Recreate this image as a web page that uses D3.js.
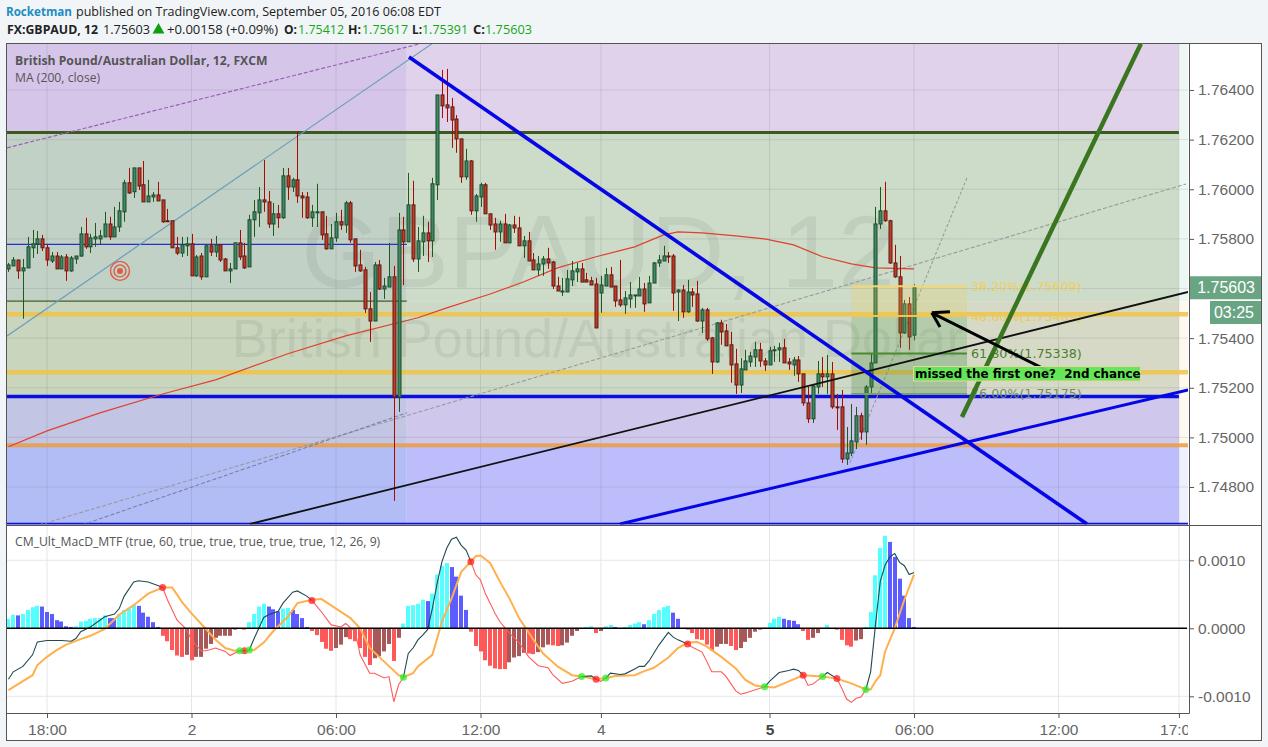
<!DOCTYPE html>
<html><head><meta charset="utf-8">
<script src="https://cdn.jsdelivr.net/npm/d3@7/dist/d3.min.js"></script>
<style>html,body{margin:0;padding:0;background:#f1f5f8;overflow:hidden}svg{display:block}</style>
</head><body><svg id="c" width="1268" height="747"></svg>
<script>
const opens=[1.75679,1.75691,1.75715,1.75671,1.75683,1.75764,1.75780,1.75800,1.75764,1.75711,1.75731,1.75679,1.75727,1.75671,1.75719,1.75731,1.75820,1.75768,1.75800,1.75800,1.75808,1.75860,1.75808,1.75848,1.75909,1.76026,1.75990,1.76086,1.76018,1.75949,1.75969,1.75977,1.75957,1.75873,1.75873,1.75764,1.75743,1.75772,1.75780,1.75651,1.75731,1.75647,1.75772,1.75747,1.75776,1.75719,1.75671,1.75679,1.75784,1.75731,1.75687,1.75877,1.75905,1.75957,1.75949,1.75860,1.75901,1.75885,1.76054,1.76009,1.76038,1.75973,1.75969,1.75885,1.75905,1.75909,1.75820,1.75760,1.75804,1.75869,1.75856,1.75945,1.75800,1.75695,1.75675,1.75518,1.75469,1.75695,1.75598,1.75606,1.75647,1.75163,1.75836,1.75788,1.75937,1.75719,1.75788,1.75824,1.75792,1.76018,1.76380,1.76340,1.76332,1.76283,1.76203,1.76050,1.76114,1.75913,1.75969,1.76018,1.75901,1.75860,1.75828,1.75860,1.75784,1.75856,1.75844,1.75772,1.75792,1.75715,1.75675,1.75699,1.75719,1.75707,1.75610,1.75586,1.75586,1.75635,1.75667,1.75679,1.75635,1.75631,1.75618,1.75582,1.75610,1.75655,1.75610,1.75554,1.75534,1.75558,1.75570,1.75570,1.75598,1.75542,1.75622,1.75703,1.75711,1.75731,1.75731,1.75586,1.75594,1.75506,1.75586,1.75578,1.75469,1.75514,1.75401,1.75304,1.75461,1.75429,1.75373,1.75296,1.75211,1.75272,1.75304,1.75324,1.75353,1.75308,1.75292,1.75349,1.75353,1.75361,1.75304,1.75292,1.75312,1.75256,1.75139,1.75075,1.75203,1.75256,1.75244,1.75256,1.75123,1.75123,1.74913,1.74937,1.74982,1.75087,1.75022,1.75203,1.75300,1.75860,1.75913,1.75873,1.75703,1.75647,1.75421,1.75538,1.75412];
const highs=[1.75703,1.75727,1.75715,1.75719,1.75808,1.75836,1.75832,1.75816,1.75780,1.75747,1.75747,1.75735,1.75739,1.75731,1.75731,1.75848,1.75885,1.75820,1.75864,1.75836,1.75909,1.75889,1.75929,1.75949,1.76038,1.76086,1.76086,1.76086,1.76114,1.76038,1.75989,1.76030,1.75957,1.75921,1.75873,1.75808,1.75808,1.75808,1.75820,1.75735,1.75743,1.75776,1.75800,1.75812,1.75776,1.75723,1.75703,1.75784,1.75836,1.75784,1.75897,1.75957,1.76009,1.76118,1.75993,1.75945,1.75937,1.76086,1.76086,1.76046,1.76231,1.75989,1.75989,1.75937,1.76022,1.75909,1.75893,1.75860,1.75905,1.75917,1.75953,1.75953,1.75800,1.75756,1.75687,1.75586,1.75707,1.75715,1.75643,1.75784,1.75691,1.75905,1.75889,1.76066,1.76034,1.75848,1.75893,1.75869,1.76046,1.76380,1.76481,1.76485,1.76368,1.76299,1.76203,1.76163,1.76118,1.75981,1.76026,1.76026,1.75901,1.75885,1.75873,1.75901,1.75860,1.75893,1.75889,1.75812,1.75828,1.75743,1.75731,1.75731,1.75764,1.75711,1.75647,1.75643,1.75675,1.75711,1.75703,1.75703,1.75663,1.75647,1.75643,1.75651,1.75683,1.75687,1.75610,1.75715,1.75590,1.75626,1.75574,1.75647,1.75622,1.75651,1.75707,1.75735,1.75772,1.75747,1.75739,1.75598,1.75614,1.75635,1.75602,1.75631,1.75522,1.75522,1.75405,1.75465,1.75474,1.75457,1.75425,1.75357,1.75320,1.75353,1.75345,1.75385,1.75381,1.75320,1.75365,1.75369,1.75381,1.75397,1.75320,1.75324,1.75328,1.75256,1.75203,1.75211,1.75308,1.75324,1.75332,1.75304,1.75175,1.75191,1.75042,1.75135,1.75123,1.75099,1.75211,1.75337,1.75929,1.76009,1.76030,1.75877,1.75776,1.75731,1.75554,1.75566,1.75617];
const lows=[1.75667,1.75691,1.75639,1.75478,1.75683,1.75723,1.75739,1.75751,1.75691,1.75703,1.75679,1.75679,1.75631,1.75667,1.75699,1.75727,1.75760,1.75743,1.75768,1.75776,1.75808,1.75796,1.75808,1.75828,1.75869,1.75981,1.75965,1.75997,1.75949,1.75949,1.75949,1.75953,1.75864,1.75869,1.75764,1.75735,1.75727,1.75731,1.75651,1.75647,1.75635,1.75647,1.75731,1.75727,1.75707,1.75671,1.75622,1.75679,1.75715,1.75679,1.75687,1.75808,1.75848,1.75909,1.75844,1.75812,1.75844,1.75881,1.75957,1.75989,1.75945,1.75885,1.75881,1.75848,1.75848,1.75796,1.75756,1.75760,1.75788,1.75836,1.75824,1.75784,1.75667,1.75667,1.75502,1.75385,1.75469,1.75594,1.75558,1.75606,1.74744,1.75103,1.75614,1.75788,1.75707,1.75667,1.75731,1.75707,1.75727,1.75957,1.76287,1.76271,1.76167,1.76147,1.76026,1.76038,1.75897,1.75869,1.75929,1.75901,1.75836,1.75756,1.75788,1.75784,1.75784,1.75824,1.75772,1.75723,1.75711,1.75675,1.75651,1.75651,1.75679,1.75598,1.75590,1.75570,1.75586,1.75610,1.75626,1.75626,1.75626,1.75614,1.75441,1.75502,1.75610,1.75606,1.75526,1.75526,1.75498,1.75522,1.75522,1.75570,1.75506,1.75542,1.75622,1.75687,1.75711,1.75703,1.75510,1.75469,1.75482,1.75502,1.75526,1.75465,1.75421,1.75389,1.75256,1.75300,1.75373,1.75369,1.75220,1.75175,1.75179,1.75272,1.75284,1.75284,1.75284,1.75268,1.75292,1.75304,1.75304,1.75300,1.75272,1.75248,1.75224,1.75127,1.75058,1.75058,1.75175,1.75203,1.75175,1.75115,1.75030,1.74897,1.74889,1.74925,1.74953,1.74990,1.74970,1.75179,1.75300,1.75840,1.75869,1.75699,1.75643,1.75361,1.75417,1.75353,1.75391];
const closes=[1.75695,1.75715,1.75671,1.75683,1.75768,1.75780,1.75800,1.75764,1.75715,1.75731,1.75679,1.75727,1.75671,1.75723,1.75731,1.75820,1.75768,1.75804,1.75808,1.75812,1.75860,1.75808,1.75848,1.75913,1.76026,1.75985,1.76086,1.76013,1.75949,1.75973,1.75977,1.75953,1.75869,1.75869,1.75764,1.75743,1.75776,1.75780,1.75651,1.75727,1.75647,1.75772,1.75747,1.75776,1.75715,1.75671,1.75679,1.75784,1.75727,1.75683,1.75877,1.75909,1.75957,1.75949,1.75860,1.75901,1.75885,1.76054,1.76009,1.76038,1.75973,1.75965,1.75885,1.75909,1.75909,1.75816,1.75760,1.75804,1.75869,1.75856,1.75945,1.75796,1.75691,1.75671,1.75518,1.75469,1.75695,1.75598,1.75610,1.75647,1.75163,1.75836,1.75788,1.75937,1.75719,1.75792,1.75824,1.75792,1.76022,1.76380,1.76336,1.76328,1.76279,1.76203,1.76050,1.76114,1.75913,1.75973,1.76018,1.75901,1.75856,1.75828,1.75860,1.75784,1.75856,1.75844,1.75772,1.75792,1.75711,1.75675,1.75699,1.75719,1.75703,1.75610,1.75590,1.75590,1.75639,1.75671,1.75679,1.75626,1.75626,1.75614,1.75441,1.75614,1.75655,1.75606,1.75550,1.75534,1.75562,1.75574,1.75574,1.75598,1.75538,1.75622,1.75703,1.75715,1.75731,1.75727,1.75582,1.75594,1.75506,1.75586,1.75574,1.75469,1.75514,1.75397,1.75304,1.75461,1.75425,1.75369,1.75292,1.75211,1.75276,1.75308,1.75328,1.75353,1.75308,1.75292,1.75349,1.75353,1.75361,1.75300,1.75296,1.75312,1.75256,1.75139,1.75075,1.75207,1.75256,1.75244,1.75256,1.75123,1.75119,1.74913,1.74937,1.74986,1.75087,1.75022,1.75203,1.75300,1.75860,1.75913,1.75873,1.75703,1.75647,1.75421,1.75538,1.75405,1.75603];
const maIndex=[0,8,19,32,43,58,70,85,91,100,107,114,122,130,136,139,144,151,157,163,169,175,180,188];
const maValues=[1.74962,1.75026,1.75099,1.75175,1.75232,1.75337,1.75409,1.75482,1.75522,1.75578,1.75627,1.75683,1.75728,1.75768,1.75816,1.75828,1.75824,1.75812,1.75800,1.75776,1.75728,1.75699,1.75683,1.75679];
const histogram=[.00014,.0002,.00019,.00021,.00027,.00031,.00033,.00032,.00024,.00021,.00012,.0001,.00003,.00002,.00003,.0001,.00011,.00014,.00015,.00015,.00019,.00015,.00015,.00021,.00027,.00029,.00034,.00033,.00023,.00017,.00009,.00002,-.00011,-.00019,-.00032,-.0004,-.00042,-.00039,-.00047,-.00042,-.00042,-.0003,-.00023,-.00014,-.00011,-.00011,-.00011,-.00002,0,-.00002,.00009,.00021,.00032,.00036,.00032,.00028,.00025,.00029,.0003,.00027,.00021,.00015,.00002,-.00004,-.0001,-.0002,-.0003,-.00033,-.00029,-.00024,-.00013,-.00016,-.00019,-.00029,-.00042,-.00054,-.00044,-.00041,-.00034,-.00023,-.00048,-.00014,.00007,.00033,.00034,.00036,.00042,.0004,.00051,.00079,.00092,.00096,.0009,.00076,.00048,.00027,-.00005,-.00026,-.00034,-.00047,-.00055,-.00059,-.0006,-.0006,-.0005,-.00043,-.00041,-.00036,-.00037,-.00038,-.00035,-.00028,-.00024,-.00025,-.00026,-.00025,-.00021,-.00011,-.00004,0,.00002,.00003,-.00007,-.00004,.00003,.00005,.00002,0,.00002,.00005,.00007,.00009,.00006,.00012,.00021,.00027,.00031,.00033,.00023,.00014,0,-.00002,-.00007,-.00016,-.00017,-.00024,-.00033,-.00027,-.00023,-.00023,-.00026,-.00032,-.00029,-.0002,-.00014,-.00005,-.00002,.00001,.00008,.00014,.00017,.00014,.00012,.00011,.00006,-.00004,-.00017,-.00014,-.00007,0,.00005,0,-.00002,-.00017,-.00025,-.00027,-.00018,-.00016,.00002,.00024,.00078,.00118,.00136,.00127,.00105,.00073,.00048,.00015,.00002];
const macdIndex=[0,1,3,5,6,8,11,13,14,15,17,20,22,23,24,26,27,29,31,32,33,35,37,38,40,41,43,45,46,48,49,50,51,53,54,56,57,59,60,62,63,65,67,69,70,72,73,75,76,78,79,80,81,82,83,84,85,86,87,88,89,90,91,92,93,94,95,96,97,98,99,100,101,102,104,106,108,110,112,113,115,117,119,121,122,123,124,125,127,128,130,131,132,133,135,137,138,139,141,142,144,145,146,148,149,151,152,153,157,158,160,162,163,164,165,166,167,169,170,172,173,174,175,176,177,178,179,180,181,182,183,184,185,186,187,188];
const macdValues=[-.00075,-.00064,-.00056,-.00039,-.0002,-.00018,-.00018,-.00019,-.00015,-.00005,.00002,.00017,.00021,.00029,.00047,.00068,.0007,.00068,.00063,.0006,.00042,.00012,-.00002,-.00017,-.00033,-.00033,-.00029,-.00034,-.0004,-.00033,-.00033,-.00032,-.00015,.00016,.0002,.00025,.00037,.00053,.00055,.00047,.00041,.00024,.00005,.00002,.00007,-.00005,-.00039,-.00066,-.00066,-.00073,-.00071,-.00108,-.00083,-.00072,-.00037,-.00029,-.00017,-.0001,-.00002,.00029,.00066,.00098,.00118,.00131,.00134,.00122,.00115,.00098,.00079,.00071,.00051,.00037,.00022,.0001,-.00007,-.00021,-.00042,-.00055,-.00058,-.00068,-.00081,-.00078,-.00071,-.0007,-.00075,-.00078,-.00073,-.00066,-.00068,-.00067,-.0006,-.00056,-.00056,-.00048,-.00025,-.00006,-.00013,-.00017,-.00023,-.00028,-.00035,-.00049,-.00064,-.00064,-.00071,-.00092,-.00097,-.00095,-.00086,-.00078,-.00065,-.00062,-.0006,-.00062,-.00069,-.00084,-.00082,-.00071,-.00065,-.00074,-.00088,-.00104,-.00109,-.00103,-.00101,-.0009,-.00064,.00005,.00069,.00093,.00105,.0011,.00097,.00092,.00079,.00082];
const signalIndex=[0,2,5,6,8,10,12,15,17,20,23,26,29,32,34,36,38,41,43,45,47,49,51,53,55,58,60,63,65,68,71,73,75,78,81,82,84,85,88,89,90,92,94,96,97,98,100,102,104,106,109,111,114,117,119,122,124,126,130,132,134,137,139,141,143,145,148,151,153,155,157,159,162,165,169,172,175,178,179,180,181,182,184,186,188];
const signalValues=[-.00091,-.00082,-.00069,-.00054,-.00042,-.00032,-.00024,-.00016,-.00011,-.00001,.0002,.00034,.00051,.0006,.0006,.00039,.00022,-.00001,-.00017,-.00029,-.00033,-.00033,-.00032,-.00021,-.00004,.00017,.00037,.00042,.00043,.00029,.00015,0,-.00029,-.00049,-.00069,-.00072,-.00066,-.00056,-.00039,-.00015,.0001,.00044,.00083,.00098,.00106,.00107,.00096,.00069,.00044,.00015,-.00017,-.00037,-.00056,-.00069,-.00071,-.00075,-.00073,-.0007,-.00069,-.00063,-.00058,-.00043,-.00029,-.00021,-.0002,-.00027,-.00042,-.00059,-.00076,-.00084,-.00086,-.00087,-.00078,-.00069,-.00071,-.00074,-.00081,-.0009,-.0009,-.00078,-.00069,-.00034,0,.00042,.00079];
const redCrosses=[32,49,63,96,122,141,165,172];
const greenCrosses=[48,50,82,119,124,157,169,178];
const priceTicks=[1.764,1.762,1.76,1.758,1.756,1.754,1.752,1.75,1.748];
const macdTicks=[.001,0,-.001];
const timeTickIndex=[8,38,68,98,123,158,188,218,243];
const timeTickLabels=["18:00","2","06:00","12:00","4","5","06:00","12:00","17:00"];
const fibLevels=[1.75609,1.75489,1.75338,1.75175];
const fibNames=["38.20%","48.60%","61.80%","76.00%"];

const svg=d3.select("#c");
const x=d3.scaleLinear().domain([8,188]).range([47,914]);
const y=d3.scaleLinear().domain([1.748,1.764]).range([487,90]);
const m=d3.scaleLinear().domain([-.001,.001]).range([696.3,560.3]);
const L=7,R=1189,TOP=44,BOT=524.5,MID=82.7,FIB=199,END=243;
const defs=svg.append("defs");
defs.append("clipPath").attr("id","cp").append("rect").attr("x",L).attr("y",TOP).attr("width",R-L-1).attr("height",BOT-TOP);
defs.append("clipPath").attr("id","ct2").append("rect").attr("x",0).attr("y",0).attr("width",R-1).attr("height",26);

svg.append("rect").attr("x",L).attr("y",TOP).attr("width",1254).attr("height",696).attr("fill","#fff");
const g=svg.append("g").attr("clip-path","url(#cp)");

// background zones
const zoneTop=[1.7660,1.76229,1.75549,1.75165,1.74968];
const zoneBot=[1.76229,1.75549,1.75165,1.74968,1.7465];
const zoneLeft=["#d5c6e9","#c2d1c6","#c9d5bd","#c2c5e4","#b2bdf5"];
const zoneMid=["#e0d2ea","#cddbc9","#cdd9c6","#cfc8ec","#bdbdfc"];
const zoneRight=["#e0d2ea","#cddbc9","#d6d9c6","#cfc8ec","#bdbdfc"];
const zoneStrip=["#eef8f2","#eef8f2","#fdf9f0","#fdf9f0","#eef0fd"];
zoneTop.forEach((t,i)=>{
  const add=(a,b,c)=>g.append("rect").attr("x",x(a)).attr("width",x(b)-x(a)).attr("y",y(t)).attr("height",y(zoneBot[i])-y(t)).attr("fill",c);
  add(-1,MID,zoneLeft[i]);add(MID,FIB,zoneMid[i]);add(FIB,END,zoneRight[i]);add(END,246,zoneStrip[i]);
});
// grid
const gridC="rgba(70,70,90,.13)";
priceTicks.forEach(p=>g.append("line").attr("x1",L).attr("x2",R).attr("y1",y(p)).attr("y2",y(p)).attr("stroke",gridC));
timeTickIndex.forEach(k=>g.append("line").attr("x1",x(k)).attr("x2",x(k)).attr("y1",TOP).attr("y2",BOT).attr("stroke",gridC));
// watermark
const wm=g.append("g").attr("font-family","Liberation Sans").attr("fill","rgba(90,100,95,.11)").attr("text-anchor","middle");
wm.append("text").attr("x",598).attr("y",287).attr("font-size",102).text("GBPAUD, 12");
wm.append("text").attr("x",598).attr("y",357).attr("font-size",54).text("British Pound/Australian Dollar");

// horizontal levels
const hl=(p,c,w,a=-1,b=246)=>g.append("line").attr("x1",x(a)).attr("x2",x(b)).attr("y1",y(p)).attr("y2",y(p)).attr("stroke",c).attr("stroke-width",w);
hl(1.75778,"#2530cc",1.2,-1,MID);
hl(1.75549,"#3f5f2a",1.2,-1,MID);
hl(1.76229,"#3c5a1e",3,-1,END);
hl(1.75496,"rgba(240,195,70,.85)",4.5);
hl(1.75262,"rgba(240,195,70,.85)",4.5);
hl(1.75165,"#0a0fe0",3.5,-1,END);
hl(1.74968,"rgba(236,155,60,.85)",4);
hl(1.74651,"#0a0fe0",2.5);

// thin slanted lines under the candles
const seg=(a,p,b,q,c,w,dash)=>{const l=g.append("line").attr("x1",x(a)).attr("y1",y(p)).attr("x2",x(b)).attr("y2",y(q)).attr("stroke",c).attr("stroke-width",w);if(dash)l.attr("stroke-dasharray",dash);return l;};
seg(-0.3,1.75409,87.9,1.76586,"#6b9dbb",1.2);
seg(-0.3,1.76167,85.4,1.76586,"#9b5fb5",1.2,"4 2");
seg(6.34,1.74647,244.45,1.76021,"#9a9a9a",1.1,"4 2");
seg(15.27,1.74647,82.7,1.75099,"#7a80aa",1.1,"4 2");
seg(174.7,1.74897,199,1.76046,"#9a9a9a",1.1,"3 2");

// moving average
const lineMA=d3.line().x((d,i)=>x(maIndex[i])).y(d=>y(d));
g.append("path").attr("d",lineMA(maValues)).attr("fill","none").attr("stroke","#e0412f").attr("stroke-width",1.2);

// candles
const bars=d3.range(opens.length);
const cg=g.append("g");
cg.selectAll("line").data(bars).join("line").attr("x1",i=>Math.round(x(i))+.5).attr("x2",i=>Math.round(x(i))+.5)
 .attr("y1",i=>y(highs[i])).attr("y2",i=>y(lows[i])).attr("stroke-width",1).attr("stroke",i=>closes[i]>=opens[i]?"#1f5a18":"#a80a00");
cg.selectAll("rect").data(bars).join("rect").attr("x",i=>Math.round(x(i))-1).attr("width",3)
 .attr("y",i=>y(Math.max(opens[i],closes[i]))).attr("height",i=>Math.max(1,Math.abs(y(opens[i])-y(closes[i]))))
 .attr("fill",i=>closes[i]>=opens[i]?"#3f8a66":"#c23a2a").attr("stroke",i=>closes[i]>=opens[i]?"#1c4a2c":"#5a1c10").attr("stroke-width",1);

// fib tool
const fibFill=["rgba(240,205,70,.22)","rgba(90,160,70,.22)","rgba(70,130,50,.27)"];
fibFill.forEach((c,i)=>g.append("rect").attr("x",x(175)).attr("width",x(199)-x(175)).attr("y",y(fibLevels[i])).attr("height",y(fibLevels[i+1])-y(fibLevels[i])).attr("fill",c));
const fibLine=["#f3d676","#eec655","#4a8a30","#7d9c70"];
const fibText=["#f0d060","#ecc95a","#4a7f30","#6f8f68"];
fibLevels.forEach((p,i)=>{
  g.append("line").attr("x1",x(175)).attr("x2",x(199)).attr("y1",y(p)).attr("y2",y(p)).attr("stroke",fibLine[i]).attr("stroke-width",2);
  g.append("text").attr("x",971).attr("y",y(p)+4.5).attr("font-family","DejaVu Sans").attr("font-size",12.7).attr("fill",fibText[i]).text(fibNames[i]+"("+p.toFixed(5)+")");
});

// heavy trend lines
seg(50.14,1.74651,244.9,1.75586,"#111",1.8);
seg(83.15,1.76533,223.9,1.74651,"#0505e6",3.6);
seg(126.95,1.74651,244.9,1.75191,"#0505e6",3);
seg(197.95,1.75082,235.1,1.76586,"#39761f",4.5);
// arrow
seg(191.7,1.75502,216.2,1.75264,"#000",3);
seg(191.7,1.75502,195.46,1.75506,"#000",3);
seg(191.7,1.75502,193.4,1.75445,"#000",3);

// target icon
const tg=g.append("g").attr("transform",`translate(${x(23.15)},${y(1.75671)})`).attr("fill","none").attr("stroke","#e05a44");
tg.append("circle").attr("r",9.5).attr("stroke-width",1.4);
tg.append("circle").attr("r",6).attr("stroke-width",1.4);
tg.append("circle").attr("r",3).attr("fill","#e05a44").attr("stroke","none");

// callout
g.append("rect").attr("x",913.5).attr("y",366.5).attr("width",227).attr("height",14.5).attr("fill","#5ee855").attr("stroke","#f0d0a0").attr("fill-opacity",.94);
g.append("text").attr("x",915).attr("y",378).attr("font-family","DejaVu Sans").attr("font-weight","bold").attr("font-size",11.9).style("white-space","pre").attr("fill","#000").text("missed the first one?  2nd chance");

// chart titles
const ttl=svg.append("g").attr("font-family","Open Sans").attr("fill","#555");
ttl.append("text").attr("x",15).attr("y",65).attr("font-weight",700).attr("font-size",12.2).text("British Pound/Australian Dollar, 12, FXCM");
ttl.append("text").attr("x",15).attr("y",82).attr("font-size",12.2).text("MA (200, close)");

// MACD pane
const h=svg.append("g");
macdTicks.forEach(v=>h.append("line").attr("x1",L).attr("x2",R).attr("y1",m(v)).attr("y2",m(v)).attr("stroke","#e6e6e6"));
timeTickIndex.forEach(k=>h.append("line").attr("x1",x(k)).attr("x2",x(k)).attr("y1",526).attr("y2",713).attr("stroke","#e6e6e6"));
let prevC="#55ffff";
const histC=histogram.map((v,i)=>{
  const p=i?histogram[i-1]:0;
  let c=prevC;
  if(v>0) c=(v>p)?"#55ffff":(v<p?"#5c5cff":(prevC==="#55ffff"||prevC==="#5c5cff"?prevC:"#55ffff"));
  else if(v<0) c=(v<p)?"#ff5858":(v>p?"#a85858":(prevC==="#ff5858"||prevC==="#a85858"?prevC:"#ff5858"));
  prevC=c;return c;
});
h.selectAll("rect.h").data(histogram).join("rect").attr("class","h")
 .attr("x",(d,i)=>Math.round(x(i))-2).attr("width",4)
 .attr("y",d=>Math.min(m(d),m(0))).attr("height",d=>Math.abs(m(d)-m(0))).attr("fill",(d,i)=>histC[i]);
const lineS=d3.line().x((d,i)=>x(signalIndex[i])).y(d=>m(d));
h.append("path").attr("d",lineS(signalValues)).attr("fill","none").attr("stroke","#ffb04d").attr("stroke-width",2);
const crosses=[...redCrosses.map(k=>[k,"#ff5a5a"]),...greenCrosses.map(k=>[k,"#1f4a50"])].sort((a,b)=>a[0]-b[0]);
const macdAt=k=>macdValues[macdIndex.indexOf(k)];
let startK=0,col="#1f4a50";
const drawMacd=(a,b,c)=>{
  const idx=macdIndex.filter(k=>k>=a&&k<=b);
  h.append("path").attr("d",d3.line().x(k=>x(k)).y(k=>m(macdAt(k)))(idx)).attr("fill","none").attr("stroke",c).attr("stroke-width",1.1);
};
crosses.forEach(([k,c])=>{drawMacd(startK,k,col);startK=k;col=c;});
drawMacd(startK,188,col);
h.append("line").attr("x1",L).attr("x2",1187).attr("y1",m(0)).attr("y2",m(0)).attr("stroke","#000").attr("stroke-width",1.5);
redCrosses.forEach(k=>h.append("circle").attr("cx",x(k)).attr("cy",m(macdAt(k))).attr("r",3.5).attr("fill","rgba(255,30,30,.75)"));
greenCrosses.forEach(k=>h.append("circle").attr("cx",x(k)).attr("cy",m(macdAt(k))).attr("r",3.5).attr("fill","rgba(40,240,40,.75)"));
svg.append("text").attr("x",15).attr("y",546).attr("font-family","Open Sans").attr("font-size",12.2).attr("fill","#555").text("CM_Ult_MacD_MTF (true, 60, true, true, true, true, true, 12, 26, 9)");

// axes
const styleAxis=a=>{a.select(".domain").remove();a.selectAll("line").attr("stroke","#555");a.selectAll("text").attr("font-family","Liberation Sans").attr("font-size",15.5).attr("fill","#666");};
const ay=svg.append("g").attr("transform",`translate(${R},0)`).call(d3.axisRight(y).tickValues(priceTicks).tickFormat(d3.format(".5f")).tickSize(5).tickPadding(4));styleAxis(ay);
const am=svg.append("g").attr("transform",`translate(${R},0)`).call(d3.axisRight(m).tickValues(macdTicks).tickFormat(d3.format(".4f")).tickSize(5).tickPadding(4));styleAxis(am);
am.selectAll("text").text(d=>d3.format(".4f")(d).replace("\u2212","-"));
const ax=svg.append("g").attr("transform","translate(0,713)").attr("clip-path","url(#ct2)").call(d3.axisBottom(x).tickValues(timeTickIndex).tickFormat((d,i)=>timeTickLabels[i]).tickSize(5).tickPadding(6));styleAxis(ax);
ax.selectAll("text").filter((d,i)=>timeTickLabels[i]==="5").attr("font-weight","bold").attr("fill","#444");

// current price labels
const lab=svg.append("g").attr("font-family","Liberation Sans").attr("font-size",16).attr("fill","#fff").attr("text-anchor","end");
lab.append("rect").attr("x",R).attr("y",y(1.75603)-11.5).attr("width",72).attr("height",23).attr("fill","#6aa583");
lab.append("text").attr("x",1255).attr("y",y(1.75603)+5.5).text("1.75603");
lab.append("rect").attr("x",1210).attr("y",301).attr("width",51).attr("height",23).attr("fill","#6aa583");
lab.append("text").attr("x",1254).attr("y",318).text("03:25");

// frame
const frame=svg.append("g").attr("stroke","#555").attr("fill","none");
frame.append("rect").attr("x",6.5).attr("y",43.5).attr("width",1255).attr("height",697);
frame.append("line").attr("x1",6.5).attr("x2",1261.5).attr("y1",525.5).attr("y2",525.5);
frame.append("line").attr("x1",R+.5).attr("x2",R+.5).attr("y1",43.5).attr("y2",713.5);
frame.append("line").attr("x1",6.5).attr("x2",R+.5).attr("y1",713.5).attr("y2",713.5);

// header
const head=svg.append("g").attr("font-family","Open Sans").attr("font-size",12.6).attr("fill","#222");
const put=(tx,ty,s,w,o={})=>{const t=head.append("text").attr("x",tx).attr("y",ty).attr("textLength",w).attr("lengthAdjust","spacingAndGlyphs").text(s);if(o.b)t.attr("font-weight",700);if(o.c)t.attr("fill",o.c);};
const up="#14a814";
put(6,16,"Rocketman",66,{b:1,c:"#1f8bc0"});
put(76,16,"published on TradingView.com, September 05, 2016 06:08 EDT",365);
put(7,34,"FX:GBPAUD, 12",91,{b:1});
put(103,34,"1.75603",47);
head.append("path").attr("d",d3.symbol(d3.symbolTriangle,62)()).attr("transform","translate(158.5,30)").attr("fill","#0e9e0e");
put(167,34,"+0.00158 (+0.09%)",111);
put(284,34,"O:",13,{b:1}); put(298,34,"1.75412",46,{c:up});
put(348,34,"H:",13,{b:1}); put(362,34,"1.75617",46,{c:up});
put(412,34,"L:",10,{b:1}); put(422,34,"1.75391",46,{c:up});
put(473,34,"C:",12,{b:1}); put(485,34,"1.75603",47,{c:up});
</script></body></html>
